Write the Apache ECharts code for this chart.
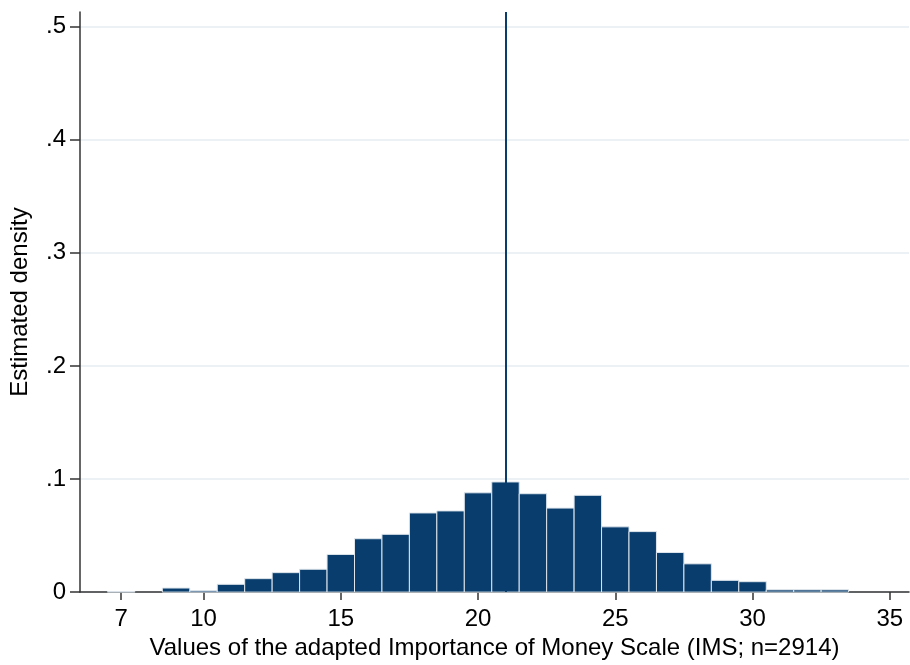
<!doctype html>
<html>
<head>
<meta charset="utf-8">
<title>IMS histogram</title>
<script src="https://cdn.jsdelivr.net/npm/echarts@6/dist/echarts.min.js"></script>
<style>
  html, body { margin: 0; padding: 0; background: #fff; }
  #chart { width: 910px; height: 665px; }
</style>
</head>
<body>
<div id="chart"></div>
<script>
// bin centres (IMS score) and estimated density of each bin
var binCenters = [7, 9, 10, 11, 12, 13, 14, 15, 16, 17, 18, 19, 20, 21, 22, 23, 24, 25, 26, 27, 28, 29, 30, 31, 32, 33];
var densities = [0.0005, 0.0036, 0.0012, 0.0069, 0.0119, 0.0172, 0.0202, 0.0333, 0.0472, 0.0511, 0.0700, 0.0718, 0.0878, 0.0974, 0.0870, 0.0743, 0.0856, 0.0577, 0.0535, 0.0350, 0.0250, 0.0104, 0.0092, 0.0020, 0.0020, 0.0020];
var xTickValues = [7, 10, 15, 20, 25, 30, 35];
var yTickValues = [0, 0.1, 0.2, 0.3, 0.4, 0.5];
var refLine = 21;

var navy = '#083d6e';
var font = 'Liberation Sans, Arial, sans-serif';

var histData = [];
for (var i = 0; i < binCenters.length; i++) {
  histData.push([binCenters[i], densities[i]]);
}

var myChart = echarts.init(document.getElementById('chart'));
myChart.setOption({
  animation: false,
  grid: { left: 80, right: 1, top: 12, bottom: 72 },
  xAxis: {
    type: 'value',
    min: 5.5,
    max: 35.7,
    name: 'Values of the adapted Importance of Money Scale (IMS; n=2914)',
    nameLocation: 'middle',
    nameGap: 42,
    nameTextStyle: { fontFamily: font, fontSize: 24, color: '#000' },
    axisLine: { show: true, onZero: false, lineStyle: { color: '#333', width: 1.5 } },
    axisTick: { show: true, length: 8, customValues: xTickValues, lineStyle: { color: '#333', width: 1.5 } },
    axisLabel: { customValues: xTickValues, margin: 15, fontFamily: font, fontSize: 24, color: '#000' },
    splitLine: { show: false }
  },
  yAxis: {
    type: 'value',
    min: 0,
    max: 0.513,
    name: 'Estimated density',
    nameLocation: 'middle',
    nameGap: 48,
    nameTextStyle: { fontFamily: font, fontSize: 24, color: '#000' },
    axisLine: { show: true, lineStyle: { color: '#333', width: 1.5 } },
    axisTick: { show: true, length: 10, customValues: yTickValues, lineStyle: { color: '#333', width: 1.5 } },
    axisLabel: {
      customValues: yTickValues,
      margin: 14,
      fontFamily: font, fontSize: 24, color: '#000',
      formatter: function (v) {
        if (v === 0) return '0';
        return String(Math.round(v * 10) / 10).replace(/^0/, '');
      }
    },
    splitLine: { show: true, lineStyle: { color: '#e4edf1', width: 1.5 } }
  },
  series: [{
    type: 'custom',
    data: histData,
    renderItem: function (params, api) {
      var x = api.value(0), y = api.value(1);
      var p0 = api.coord([x - 0.5, y]);
      var p1 = api.coord([x + 0.5, 0]);
      return {
        type: 'rect',
        shape: { x: p0[0], y: p0[1], width: p1[0] - p0[0], height: p1[1] - p0[1] },
        style: { fill: navy, stroke: '#dfe6ec', lineWidth: 1 }
      };
    },
    markLine: {
      silent: true,
      symbol: 'none',
      label: { show: false },
      lineStyle: { color: navy, width: 2, type: 'solid' },
      data: [{ xAxis: refLine }]
    }
  }]
});
</script>
</body>
</html>
